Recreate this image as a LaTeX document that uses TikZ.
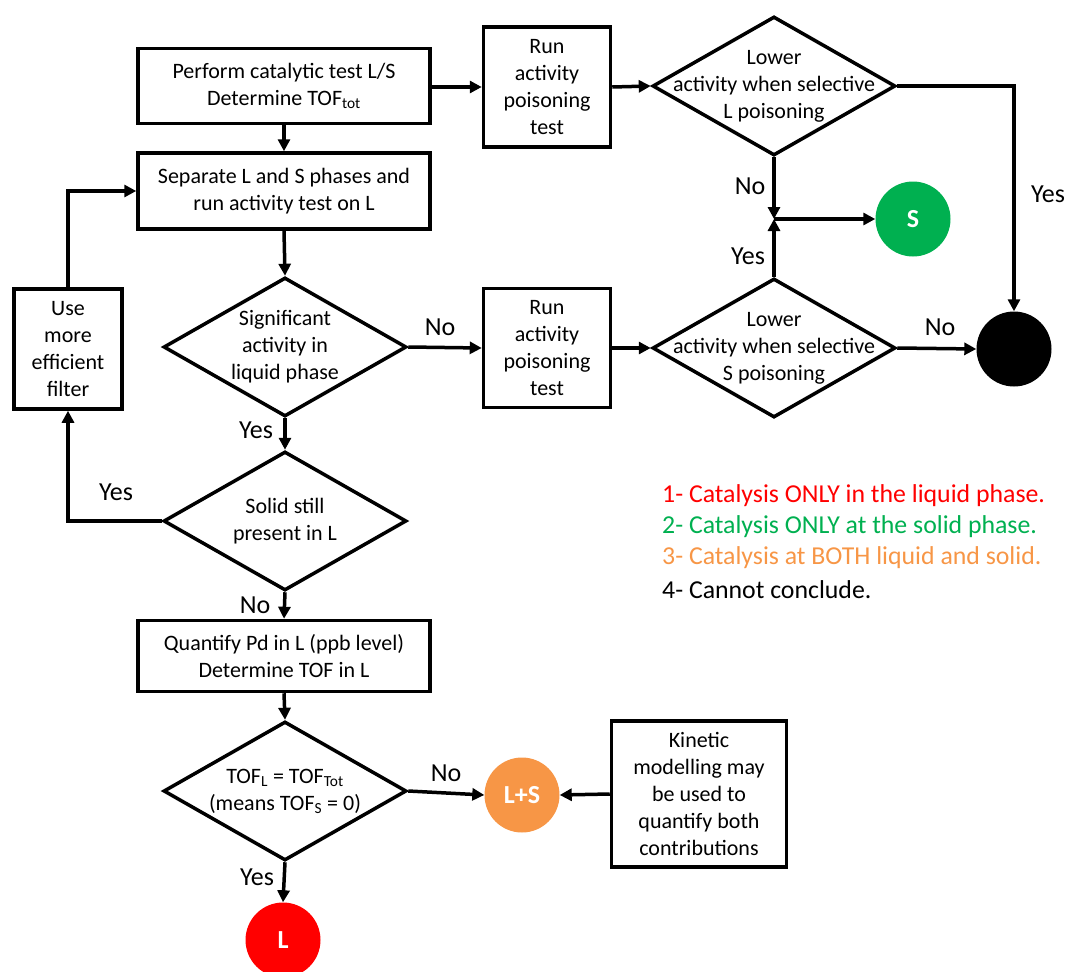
\documentclass[tikz,border=0pt]{standalone}
\usepackage{fontspec}
\setmainfont{Carlito}
\usetikzlibrary{shapes.geometric,arrows.meta}
\definecolor{cred}{RGB}{255,0,0}
\definecolor{cgreen}{RGB}{0,176,80}
\definecolor{corange}{RGB}{247,150,70}
\begin{document}
\begin{tikzpicture}[x=1pt,y=-1pt,
  box/.style={draw, line width=3.5pt, align=center, inner sep=0pt, font=\fontsize{22}{27}\selectfont},
  dia/.style={draw, diamond, line width=3.5pt, minimum width=243pt, minimum height=139pt, inner sep=0pt, shape aspect=1.75},
  dtext/.style={font=\fontsize{22}{27}\selectfont, align=center},
  circ/.style={circle, minimum size=75pt, inner sep=0pt, text=white, font=\fontsize{26}{30}\selectfont\bfseries},
  arr/.style={line width=3.5pt, -{Triangle[length=12pt,width=12pt]}},
  lbl/.style={font=\fontsize{26}{30}\selectfont, inner sep=0pt},
  leg/.style={font=\fontsize{25.8}{30}\selectfont, anchor=west, inner sep=0pt}]
\useasboundingbox (0,0) rectangle (1069,972);
% boxes
\node[box, minimum width=292pt, minimum height=75pt] (box1) at (284,86) {Perform catalytic test L/S\\Determine TOF\textsubscript{tot}};
\node[box, minimum width=292pt, minimum height=76pt] (sep) at (284,191) {Separate L and S phases and\\run activity test on L};
\node[box, minimum width=127pt, minimum height=120pt] (run1) at (547,87) {Run\\activity\\poisoning\\test};
\node[box, minimum width=127pt, minimum height=119pt] (run2) at (547,348) {Run\\activity\\poisoning\\test};
\node[box, minimum width=108pt, minimum height=120pt] (use) at (68,349) {Use\\more\\efficient\\filter};
\node[box, minimum width=292pt, minimum height=71pt] (q) at (284,656) {Quantify Pd in L (ppb level)\\Determine TOF in L};
\node[box, minimum width=175pt, minimum height=146pt] (kin) at (699,794) {Kinetic\\modelling may\\be used to\\quantify both\\contributions};
% diamonds
\node[dia] (d1) at (774,86) {};
\node[dtext] at (d1.center) {Lower\\activity when selective\\L poisoning};
\node[dia] (d2) at (774,348) {};
\node[dtext] at (d2.center) {Lower\\activity when selective\\S poisoning};
\node[dia] (sig) at (285,347) {};
\node[dtext] at (sig.center) {Significant\\activity in\\liquid phase};
\node[dia] (sol) at (285,521) {};
\node[dtext] at (sol.center) {Solid still\\present in L};
\node[dia] (tof) at (285,791) {};
\node[dtext] at (tof.center) {TOF\textsubscript{L} = TOF\textsubscript{Tot}\\(means TOF\textsubscript{S} = 0)};
% circles
\node[circ, fill=cgreen] (S) at (913,219) {S};
\node[circ, fill=black] (blk) at (1014,349) {};
\node[circ, fill=corange] (LS) at (522,795) {L+S};
\node[circ, fill=cred] (L) at (283,940) {L};
\coordinate (j) at (774,219);
% connectors
\draw[arr] (box1.east |- run1.west) -- (run1.west);
\draw[arr] (box1.south) -- (sep.north);
\draw[arr] (run1.east) -- (d1.west);
\draw[arr] (d1.east) -| (blk.north);
\draw[arr] (d1.south) -- (j);
\draw[arr] (d2.north) -- (j);
\draw[arr] (j) -- (S.west);
\draw[arr] (sep.south) -- (sig.north);
\draw[arr] (sig.east) -- (run2.west);
\draw[arr] (run2.east) -- (d2.west);
\draw[arr] (d2.east) -- (blk.west);
\draw[arr] (sig.south) -- (sol.north);
\draw[arr] (sol.west) -| (use.south);
\draw[arr] (use.north) |- (sep.west);
\draw[arr] (sol.south) -- (q.north);
\draw[arr] (q.south) -- (tof.north);
\draw[arr] (tof.east) -- (LS.west);
\draw[arr] (kin.west) -- (LS.east);
\draw[arr] (tof.south) -- (L.north);
% labels
\node[lbl] at (750,186) {No};
\node[lbl] at (1048,194) {Yes};
\node[lbl] at (748,256) {Yes};
\node[lbl] at (440,327) {No};
\node[lbl] at (940,327) {No};
\node[lbl] at (256,430) {Yes};
\node[lbl] at (116,492) {Yes};
\node[lbl] at (255,605) {No};
\node[lbl] at (446,773) {No};
\node[lbl] at (257,877) {Yes};
% legend
\node[leg, text=cred] (l1) at (662,496) {1- Catalysis ONLY in the liquid phase.};
\node[leg, text=cgreen] (l2) at (662,527) {2- Catalysis ONLY at the solid phase.};
\node[leg, text=corange] (l3) at (662,558) {3- Catalysis at BOTH liquid and solid.};
\node[leg] (l4) at (662,590) {4- Cannot conclude.};
\end{tikzpicture}
\end{document}
